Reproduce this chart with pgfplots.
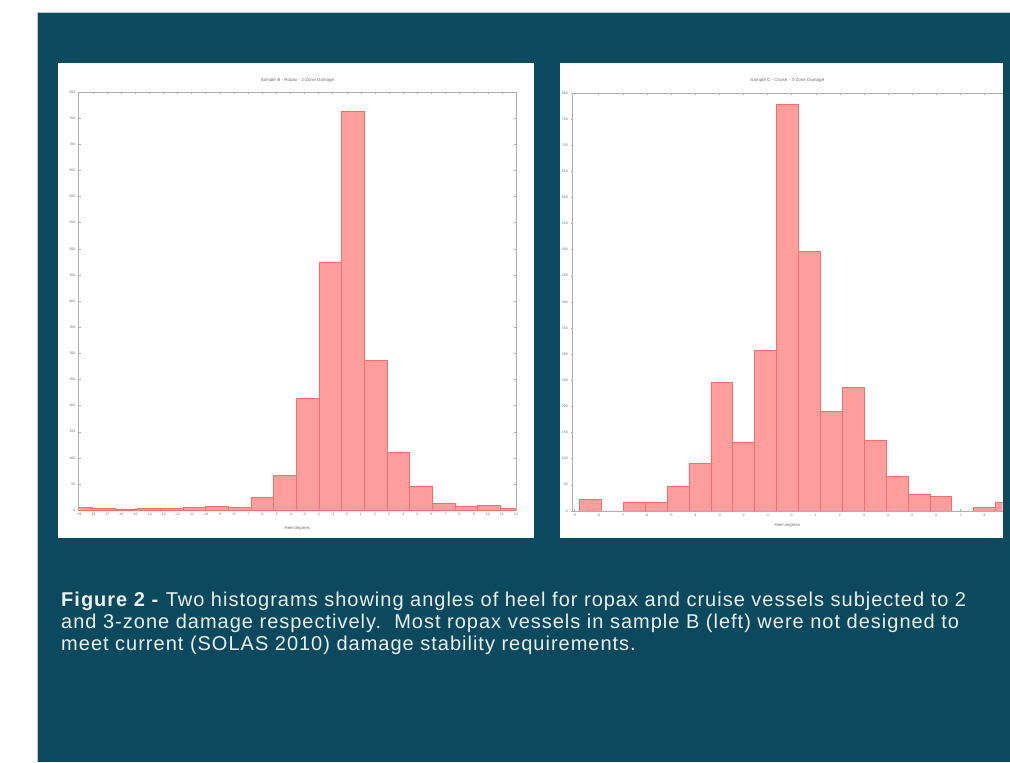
\documentclass[border=0pt]{standalone}
\usepackage{fontspec}
\setmainfont{Liberation Sans}
\newfontfamily\capfont[LetterSpace=5]{Liberation Sans}
\usepackage{pgfplots}
\pgfplotsset{compat=1.18}
\definecolor{bgteal}{RGB}{11,74,94}
\definecolor{barfill}{RGB}{255,158,156}
\definecolor{baredge}{RGB}{240,112,112}
\definecolor{capcol}{RGB}{236,241,243}
\definecolor{axgray}{RGB}{175,175,175}
\definecolor{txtgray}{RGB}{110,110,110}

\pgfplotsset{
  histo/.style={
    scale only axis,
    anchor=south west,
    ymin=0, ymax=800,
    ytick={0,50,...,800},
    axis line style={axgray, line width=0.4pt},
    tick style={axgray, line width=0.3pt},
    major tick length=1.5pt,
    tick align=inside,
    ticklabel style={font=\fontsize{2.6}{3}\selectfont, text=txtgray},
    /pgf/number format/assume math mode=true,
    yticklabel style={xshift=1pt},
    xticklabel style={yshift=1pt},
    title style={font=\fontsize{3.4}{4}\selectfont, text=txtgray, yshift=-2pt},
    xlabel={Heel degrees},
  },
  hxlabel/.style={xlabel style={font=\fontsize{3.2}{4}\selectfont, text=txtgray, yshift=-1pt}},
}

\begin{document}
\begin{tikzpicture}
\begin{scope}[x=0.75pt,y=-0.75pt]
\fill[white] (0,0) rectangle (1010,762);
\fill[bgteal] (37,12) rectangle (1010,762);
\draw[gray!45, line width=0.5pt] (37,762) -- (37,12) -- (1010,12);
\fill[white] (58,63) rectangle (534,538);
\fill[white] (560,63) rectangle (1003,538);
\node[anchor=base west, text=capcol, font=\capfont\fontsize{15}{17}\selectfont, inner sep=0pt] at (61,607)
  {\textbf{Figure 2 -} Two histograms showing angles of heel for ropax and cruise vessels subjected to 2};
\node[anchor=base west, text=capcol, font=\capfont\fontsize{15}{17}\selectfont, inner sep=0pt] at (61,629)
  {and 3-zone damage respectively.\ \ Most ropax vessels in sample B (left) were not designed to};
\node[anchor=base west, text=capcol, font=\capfont\fontsize{15}{17}\selectfont, inner sep=0pt] at (61,651)
  {meet current (SOLAS 2010) damage stability requirements.};
\end{scope}

% Left histogram: Sample B
\begin{axis}[histo,
  at={(59.03pt,-382.73pt)},
  width=328.2pt, height=313.7pt,
  xmin=0, xmax=31,
  xtick={0,...,31},
  xticklabels={-19,-18,-17,-16,-15,-14,-13,-12,-11,-10,-9,-8,-7,-6,-5,-4,-3,-2,-1,0,1,2,3,4,5,6,7,8,9,10,11,12},
  title={Sample B - Ropax - 2-Zone Damage},
  hxlabel,
]
\addplot[ybar interval, fill=barfill, draw=baredge, line width=0.4pt] coordinates {
(-0.640,6) (0.966,4) (2.572,1) (4.178,4) (5.784,3) (7.390,5) (8.996,7) (10.602,6)
(12.208,24) (13.814,66) (15.420,214) (17.026,475) (18.632,764) (20.238,287)
(21.844,110) (23.450,46) (25.056,14) (26.662,8) (28.268,9) (29.874,4) (31.480,4)
};
\end{axis}

% Right histogram: Sample C
\begin{axis}[histo,
  at={(429.23pt,-383.25pt)},
  width=323.0pt, height=313.5pt,
  xmin=-0.097, xmax=17.748,
  axis x line=box, axis y line=left,
  axis line style={axgray, line width=0.4pt, -},
  xtick={0,...,17},
  xticklabels={-9,-8,-7,-6,-5,-4,-3,-2,-1,0,1,2,3,4,5,6,7,8},
  title={Sample C - Cruise - 3-Zone Damage},
  hxlabel,
  xlabel style={at={(0.5,0)}, anchor=north, yshift=-5pt},
]
\addplot[ybar interval, fill=barfill, draw=baredge, line width=0.4pt] coordinates {
(0.207,22) (1.1145,0) (2.022,17) (2.9295,17) (3.837,47) (4.7445,91) (5.652,246)
(6.5595,132) (7.467,307) (8.3745,779) (9.282,496) (10.1895,191) (11.097,237)
(12.0045,136) (12.912,66) (13.8195,32) (14.727,27) (15.6345,0) (16.542,6)
(17.4495,17) (18.357,17)
};
\end{axis}
\end{tikzpicture}
\end{document}
